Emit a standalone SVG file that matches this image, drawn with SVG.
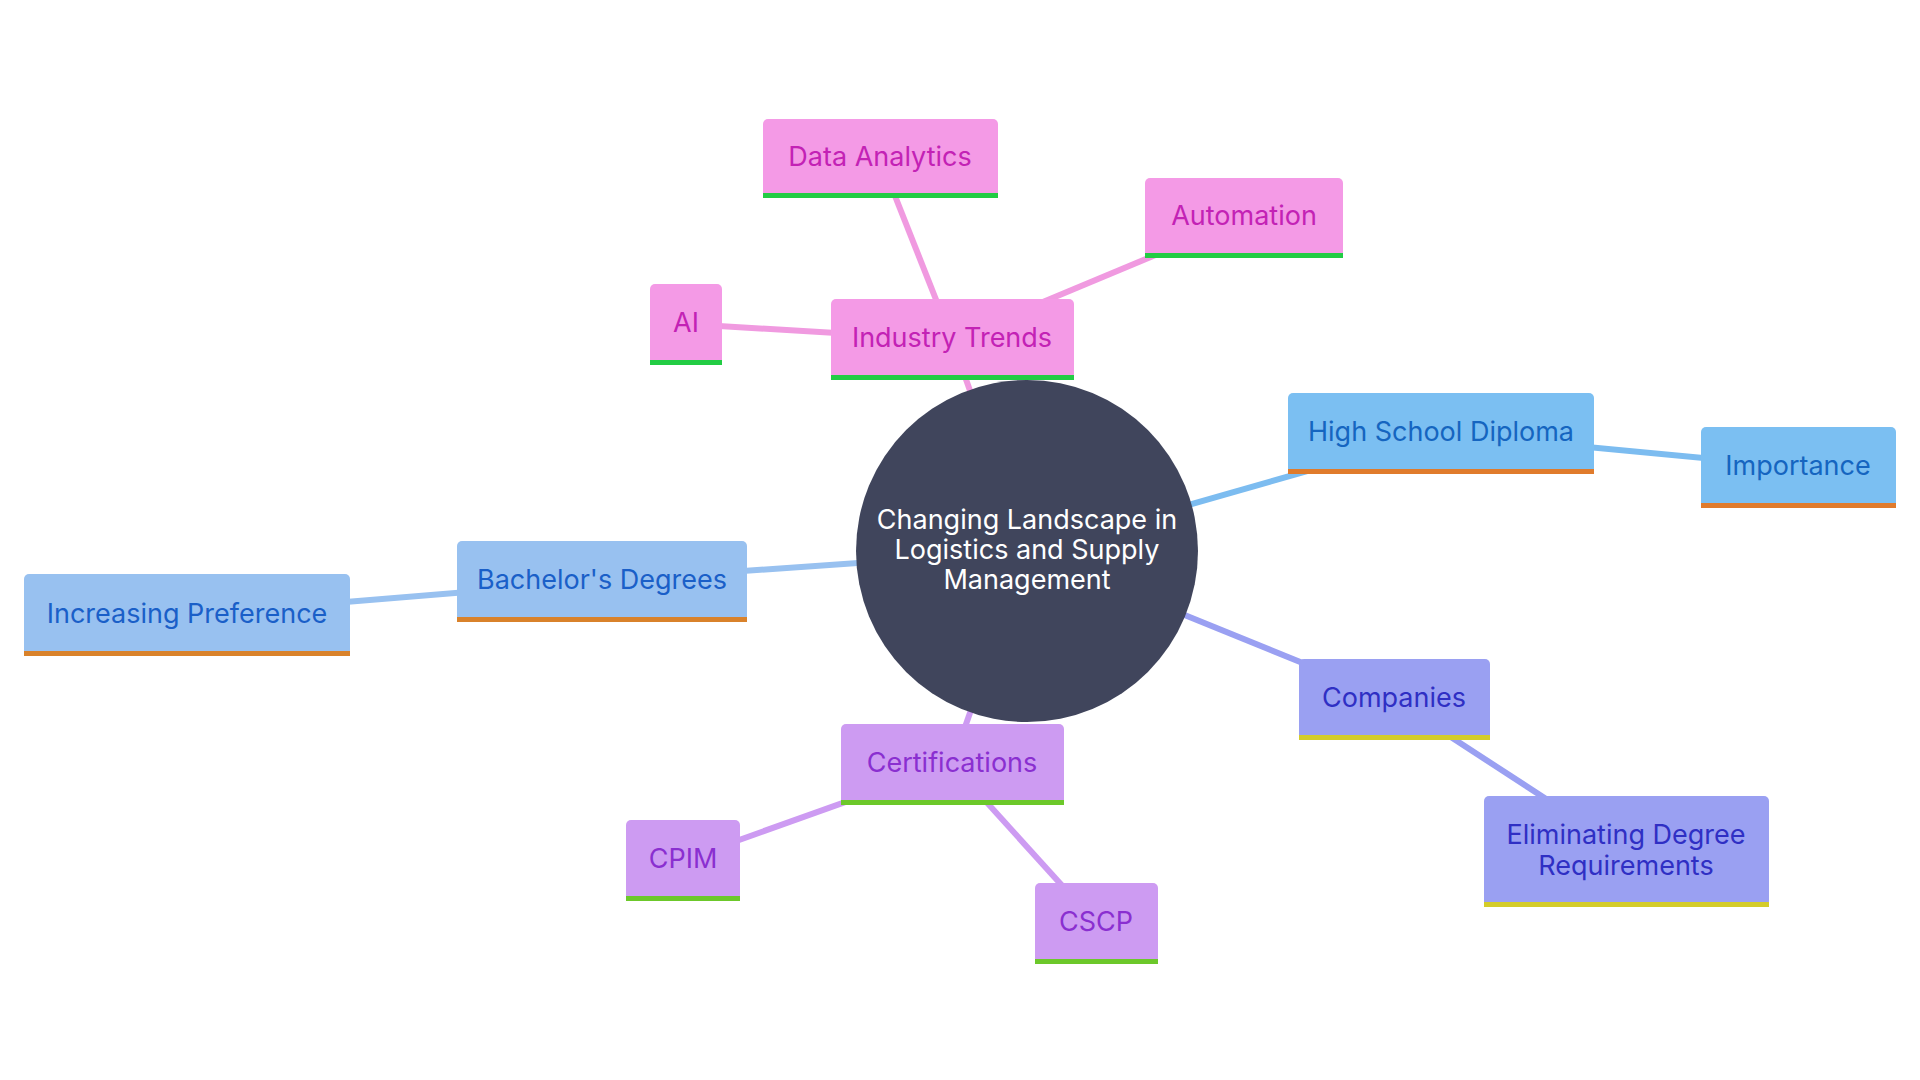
<svg xmlns="http://www.w3.org/2000/svg" width="1920" height="1080" viewBox="0 0 1920 1080">
<style>
text{font-family:Inter,"Open Sans","Liberation Sans",sans-serif;font-size:27px;text-anchor:middle;dominant-baseline:central}
.c line{stroke-width:6;fill:none}
.pk rect.b{fill:#f49ae6}.pk text{fill:#c322b5}
.hs rect.b{fill:#7bbff2}.hs text{fill:#1565c0}
.bd rect.b{fill:#98c1f0}.bd text{fill:#1a5fc8}
.co rect.b{fill:#9aa0f2}.co text{fill:#2f2fc4}
.ce rect.b{fill:#cd9bf2}.ce text{fill:#8a2fd0}
</style>
<rect width="1920" height="1080" fill="#fff"/>
<g class="c">
<line x1="1027" y1="551" x2="952" y2="340" stroke="#f09ae0"/>
<line x1="952" y1="340" x2="880" y2="158" stroke="#f09ae0"/>
<line x1="952" y1="340" x2="1244" y2="218" stroke="#f09ae0"/>
<line x1="952" y1="340" x2="686" y2="324" stroke="#f09ae0"/>
<line x1="1027" y1="551" x2="1441" y2="433" stroke="#7cbcf0"/>
<line x1="1441" y1="433" x2="1798" y2="467" stroke="#7cbcf0"/>
<line x1="1027" y1="551" x2="602" y2="581" stroke="#98c1f0"/>
<line x1="602" y1="581" x2="187" y2="615" stroke="#98c1f0"/>
<line x1="1027" y1="551" x2="1394" y2="700" stroke="#9aa0f2"/>
<line x1="1394" y1="700" x2="1626" y2="851" stroke="#9aa0f2"/>
<line x1="1027" y1="551" x2="952" y2="764" stroke="#cd9bf2"/>
<line x1="952" y1="764" x2="683" y2="860" stroke="#cd9bf2"/>
<line x1="952" y1="764" x2="1096" y2="923" stroke="#cd9bf2"/>
</g>
<g id="center"><circle cx="1027" cy="551" r="171" fill="#40455c"/>
<text x="1027" y="519" fill="#fff" font-size="26">Changing Landscape in</text>
<text x="1027" y="549" fill="#fff" font-size="26">Logistics and Supply</text>
<text x="1027" y="579" fill="#fff" font-size="26">Management</text></g>
<g id="trends" class="pk"><rect class="b" x="831" y="299" width="243" height="81" rx="5"/><rect x="831" y="375" width="243" height="5" fill="#22cc44"/><text x="952" y="337">Industry Trends</text></g>
<g id="data" class="pk"><rect class="b" x="763" y="119" width="235" height="79" rx="5"/><rect x="763" y="193" width="235" height="5" fill="#22cc44"/><text x="880" y="156">Data Analytics</text></g>
<g id="auto" class="pk"><rect class="b" x="1145" y="178" width="198" height="80" rx="5"/><rect x="1145" y="253" width="198" height="5" fill="#22cc44"/><text x="1244" y="215">Automation</text></g>
<g id="ai" class="pk"><rect class="b" x="650" y="284" width="72" height="81" rx="5"/><rect x="650" y="360" width="72" height="5" fill="#22cc44"/><text x="686" y="322">AI</text></g>
<g id="hs" class="hs"><rect class="b" x="1288" y="393" width="306" height="81" rx="5"/><rect x="1288" y="469" width="306" height="5" fill="#e07b2c"/><text x="1441" y="431">High School Diploma</text></g>
<g id="imp" class="hs"><rect class="b" x="1701" y="427" width="195" height="81" rx="5"/><rect x="1701" y="503" width="195" height="5" fill="#e07b2c"/><text x="1798" y="465">Importance</text></g>
<g id="bach" class="bd"><rect class="b" x="457" y="541" width="290" height="81" rx="5"/><rect x="457" y="617" width="290" height="5" fill="#d9822b"/><text x="602" y="579">Bachelor's Degrees</text></g>
<g id="incr" class="bd"><rect class="b" x="24" y="574" width="326" height="82" rx="5"/><rect x="24" y="651" width="326" height="5" fill="#d9822b"/><text x="187" y="613">Increasing Preference</text></g>
<g id="comp" class="co"><rect class="b" x="1299" y="659" width="191" height="81" rx="5"/><rect x="1299" y="735" width="191" height="5" fill="#d4cc2a"/><text x="1394" y="697">Companies</text></g>
<g id="elim" class="co"><rect class="b" x="1484" y="796" width="285" height="111" rx="5"/><rect x="1484" y="902" width="285" height="5" fill="#d4cc2a"/><text x="1626" y="834">Eliminating Degree</text><text x="1626" y="865">Requirements</text></g>
<g id="cert" class="ce"><rect class="b" x="841" y="724" width="223" height="81" rx="5"/><rect x="841" y="800" width="223" height="5" fill="#6cc82a"/><text x="952" y="762">Certifications</text></g>
<g id="cpim" class="ce"><rect class="b" x="626" y="820" width="114" height="81" rx="5"/><rect x="626" y="896" width="114" height="5" fill="#6cc82a"/><text x="683" y="858">CPIM</text></g>
<g id="cscp" class="ce"><rect class="b" x="1035" y="883" width="123" height="81" rx="5"/><rect x="1035" y="959" width="123" height="5" fill="#6cc82a"/><text x="1096" y="921">CSCP</text></g>
</svg>
